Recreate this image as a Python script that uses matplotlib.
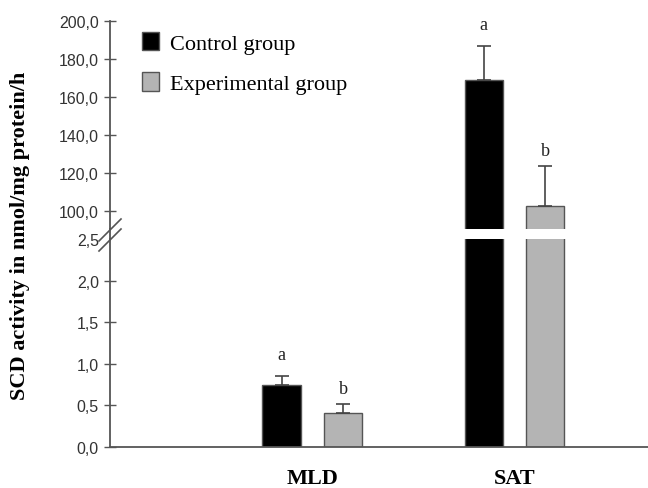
import numpy as np
import matplotlib.pyplot as plt
from matplotlib.lines import Line2D
from matplotlib.patches import Patch

# data
groups = ["MLD", "SAT"]
series = ["Control group", "Experimental group"]
control_mean = [0.745, 168.9]
control_err = [0.105, 18.0]
exp_mean = [0.41, 102.6]
exp_err = [0.11, 21.0]
control_letters = ["a", "a"]
exp_letters = ["b", "b"]

low_ticks = [0.0, 0.5, 1.0, 1.5, 2.0, 2.5]
high_ticks = [100, 120, 140, 160, 180, 200]

W, H = 648, 489
fig = plt.figure(figsize=(W / 100, H / 100), dpi=100)

left = 110 / W
right = 1.0
ax_hi = fig.add_axes([left, 1 - 230 / H, right - left, (230 - 22) / H])
ax_lo = fig.add_axes([left, 1 - 448 / H, right - left, (448 - 240) / H])

x = np.arange(1, len(groups) + 1)
width = 0.19
off = 0.152
c_ctrl, c_exp = "black", "#b4b4b4"
edge = "#555555"
serif = "Liberation Serif"
sans = "Liberation Sans"

for ax in (ax_hi, ax_lo):
    ax.bar(x - off, control_mean, width, color=c_ctrl, edgecolor=edge, lw=1)
    ax.bar(x + off, exp_mean, width, color=c_exp, edgecolor=edge, lw=1)
    ax.errorbar(x - off, control_mean, yerr=[np.zeros(2), control_err], fmt="none",
                ecolor="#444444", elinewidth=1.2, capsize=5, capthick=1.2)
    ax.errorbar(x + off, exp_mean, yerr=[np.zeros(2), exp_err], fmt="none",
                ecolor="#444444", elinewidth=1.2, capsize=5, capthick=1.2)
    ax.set_xlim(0, 2.66)
    for s in ["top", "right"]:
        ax.spines[s].set_visible(False)
    ax.spines["left"].set_color(edge)
    ax.spines["left"].set_linewidth(1.3)
    ax.tick_params(axis="y", direction="inout", length=8, width=1, color=edge,
                   labelsize=11.5, labelcolor="#333333", pad=4)

ax_hi.set_ylim(100 - 18 / 1.9, 200)
ax_lo.set_ylim(0, 2.5)
ax_hi.set_yticks(high_ticks)
ax_hi.set_yticklabels([f"{v:.1f}".replace(".", ",") for v in high_ticks], family=sans)
ax_lo.set_yticks(low_ticks)
ax_lo.set_yticklabels([f"{v:.1f}".replace(".", ",") for v in low_ticks], family=sans)
ax_lo.yaxis.get_major_ticks()[-1].tick1line.set_visible(False)

ax_hi.spines["bottom"].set_visible(False)
ax_hi.set_xticks([])
ax_lo.spines["bottom"].set_color(edge)
ax_lo.spines["bottom"].set_linewidth(1.3)
ax_lo.set_xticks(x)
ax_lo.set_xticklabels(groups, family=serif, fontweight="bold", fontsize=16)
ax_lo.tick_params(axis="x", length=0, pad=15)

# significance letters
for ax, idx in ((ax_lo, 0), (ax_hi, 1)):
    ax.annotate(control_letters[idx], (x[idx] - off, control_mean[idx] + control_err[idx]),
                xytext=(0, 13), textcoords="offset pixels", ha="center", va="bottom",
                family=serif, fontsize=13, color="#222222")
    ax.annotate(exp_letters[idx], (x[idx] + off, exp_mean[idx] + exp_err[idx]),
                xytext=(0, 7), textcoords="offset pixels", ha="center", va="bottom",
                family=serif, fontsize=13, color="#222222")

# continuous spine through the gap plus break marks
fig.add_artist(Line2D([left, left], [1 - 240 / H, 1 - 230 / H], color=edge, lw=1.3))
for dy in (0, 10):
    fig.add_artist(Line2D([99 / W, 121 / W], [1 - (242 + dy) / H, 1 - (220 + dy) / H],
                          color="#555555", lw=1.2))

# legend
handles = [Patch(facecolor=c_ctrl, edgecolor=edge), Patch(facecolor=c_exp, edgecolor=edge)]
ax_hi.legend(handles, series, loc="upper left", bbox_to_anchor=(0.022, 1.045), frameon=False,
             prop={"family": serif, "size": 16}, handlelength=0.75, handleheight=0.9,
             handletextpad=0.5, labelspacing=0.85)

fig.text(20 / W, 1 - 236 / H, "SCD activity in nmol/mg protein/h", rotation=90,
         ha="center", va="center", family=serif, fontweight="bold", fontsize=16)

fig.savefig("out.png", dpi=100)
